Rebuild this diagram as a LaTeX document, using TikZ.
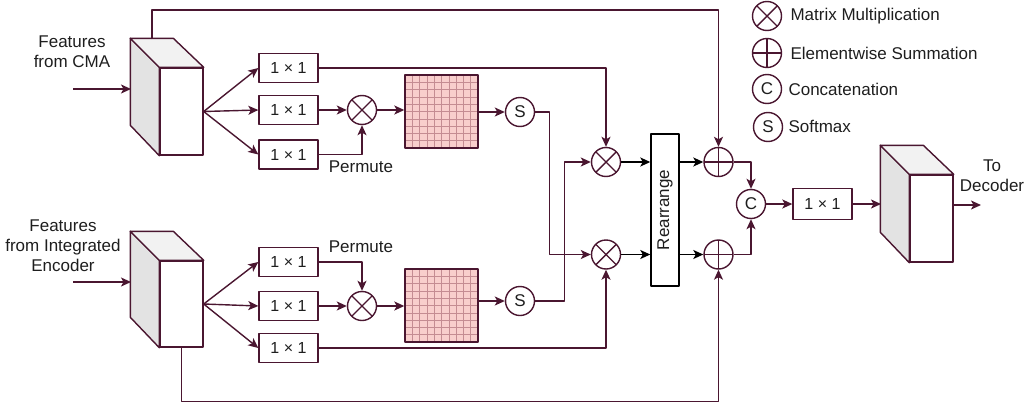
\documentclass[tikz,border=0pt]{standalone}
\usepackage{fontspec}
\setmainfont{Liberation Sans}
\usetikzlibrary{arrows.meta}
\definecolor{mar}{RGB}{74,22,48}
\definecolor{txt}{RGB}{30,30,30}
\definecolor{pinkf}{RGB}{248,206,204}
\definecolor{gridl}{RGB}{196,140,146}
\begin{document}
\begin{tikzpicture}[x=1pt,y=-1pt,line join=round,
  every node/.style={font=\fontsize{17}{20}\selectfont, text=txt},
  ln/.style={draw=mar, line width=1.4pt},
  arr/.style={ln, -{Stealth[length=10pt,width=9pt,inset=2.5pt]}},
  arrk/.style={draw=black, line width=1.4pt, -{Stealth[length=10pt,width=9pt,inset=2.5pt]}},
  conv/.style={draw=mar, line width=1.4pt, fill=white, minimum width=59pt, minimum height=29pt, inner sep=0pt, font=\fontsize{16}{19}\selectfont},
  circ/.style={circle, draw=mar, line width=1.4pt, fill=white, minimum size=29pt, inner sep=0pt},
  mult/.style={circ, path picture={\draw[mar, line width=1.4pt] (path picture bounding box.north west)--(path picture bounding box.south east) (path picture bounding box.north east)--(path picture bounding box.south west);}},
  plus/.style={circ, path picture={\draw[mar, line width=1.4pt] (path picture bounding box.north)--(path picture bounding box.south) (path picture bounding box.east)--(path picture bounding box.west);}},
  face/.style={draw=mar, line width=1.4pt, fill=white, minimum width=43pt, minimum height=87pt, inner sep=0pt},
  sideface/.style={draw=mar, line width=1.4pt, fill=black!11},
  topface/.style={draw=mar, line width=1.4pt, fill=black!5},
  gridbox/.style={draw=mar, line width=1.4pt, fill=pinkf, minimum size=73pt, inner sep=0pt,
    path picture={\foreach \k in {1,...,9}{
      \draw[gridl, line width=0.6pt] ([xshift=\k*7.3pt]path picture bounding box.north west) -- ([xshift=\k*7.3pt]path picture bounding box.south west);
      \draw[gridl, line width=0.6pt] ([yshift=-\k*7.3pt]path picture bounding box.north west) -- ([yshift=-\k*7.3pt]path picture bounding box.north east);}}},
  rearr/.style={draw=black, line width=1.4pt, fill=white, minimum width=28pt, minimum height=152pt, inner sep=0pt},
  lab/.style={align=center, inner sep=0pt}
]
\useasboundingbox (0,0) rectangle (1036,407);

% ---------- cuboids ----------
\node[face] (encA) at (181.5,111.5) {};
\path[sideface] (encA.north west) -- ++(-29,-29) -- ++(0,87) -- (encA.south west) -- cycle;
\path[topface] (encA.north west) -- ++(-29,-29) -- ++(43,0) -- (encA.north east) -- cycle;
\node[face, minimum height=86pt] (encB) at (181.5,304) {};
\path[sideface] (encB.north west) -- ++(-29,-29) -- ++(0,86) -- (encB.south west) -- cycle;
\path[topface] (encB.north west) -- ++(-29,-29) -- ++(43,0) -- (encB.north east) -- cycle;
\node[face] (dec) at (931.5,218.5) {};
\path[sideface] (dec.north west) -- ++(-29,-29) -- ++(0,87) -- (dec.south west) -- cycle;
\path[topface] (dec.north west) -- ++(-29,-29) -- ++(43,0) -- (dec.north east) -- cycle;

\coordinate (inA) at (73,89);
\coordinate (encAback) at (131,89);
\coordinate (inB) at (73,282);
\coordinate (encBback) at (131,282);
\coordinate (encAtop) at (152,39);
\coordinate (decback) at (881,204);
\coordinate (outend) at (981,205);

% ---------- labels ----------
\node[lab] (labA) at (72,52) {Features\\from CMA};
\node[lab] (labB) at (63,246) {Features\\from Integrated\\Encoder};
\node[lab] (labD) at (992,176) {To\\Decoder};
\node[lab] (permA) at (361,167) {Permute};
\node[lab] (permB) at (361,247) {Permute};

% ---------- branch nodes ----------
\node[conv] (a1) at (288.5,68) {1 × 1};
\node[conv] (a2) at (288.5,110) {1 × 1};
\node[conv] (a3) at (288.5,154.5) {1 × 1};
\node[conv] (b1) at (288.5,262) {1 × 1};
\node[conv] (b2) at (288.5,306) {1 × 1};
\node[conv] (b3) at (288.5,348) {1 × 1};

\node[mult] (mulA) at (362,110) {};
\node[mult] (mulB) at (362,306) {};
\node[gridbox] (gA) at (441.5,111.5) {};
\node[gridbox] (gB) at (441.5,305.5) {};
\node[circ] (sA) at (520,112) {S};
\node[circ] (sB) at (520,301) {S};

\node[mult] (m1) at (606,162) {};
\node[mult] (m2) at (606,254.5) {};
\node[rearr] (re) at (665,210) {};
\node[rotate=90] (reT) at (665,210) {Rearrange};
\node[plus] (p1) at (718.5,162) {};
\node[plus] (p2) at (718.5,254.5) {};
\node[circ] (cc) at (751,204) {C};
\node[conv, minimum height=31pt] (o1) at (822.5,204) {1 × 1};

% ---------- legend ----------
\node[mult] (L1) at (767,16) {};
\node[anchor=west] (L1t) at (787,16) {Matrix Multiplication};
\node[plus] (L2) at (767,53) {};
\node[anchor=west] (L2t) at (787,53) {Elementwise Summation};
\node[circ] (L3) at (767,89) {C};
\node[anchor=west] (L3t) at (785,89) {Concatenation};
\node[circ] (L4) at (768,127) {S};
\node[anchor=west] (L4t) at (785,126) {Softmax};

% ---------- connectors ----------
\draw[arr] (inA) -- (encAback);
\draw[arr] (inB) -- (encBback);
\foreach \t in {a1,a2,a3} \draw[arr] (encA.east) -- (\t.west);
\foreach \t in {b1,b2,b3} \draw[arr] (encB.east) -- (\t.west);

\draw[arr] (encAtop) -- ++(0,-29) -| (p1.north);
\draw[arr] (encB.south) -- ++(0,54) -| (p2.south);

\draw[arr] (a1.east) -| (m1.north);
\draw[arr] (a2.east) -- (mulA.west);
\draw[arr] (a3.east) -| (mulA.south);
\draw[arr] (mulA.east) -- (gA.west |- mulA);
\draw[arr] (gA.east |- sA) -- (sA.west);
\draw[arr] (sA.east) -- ++(14,0) |- (m2.west);

\draw[arr] (b1.east) -| (mulB.north);
\draw[arr] (b2.east) -- (mulB.west);
\draw[arr] (b3.east) -| (m2.south);
\draw[arr] (mulB.east) -- (gB.west |- mulB);
\draw[arr] (gB.east |- sB) -- (sB.west);
\draw[arr] (sB.east) -- ++(29,0) |- (m1.west);

\draw[arrk] (m1.east) -- (re.west |- m1);
\draw[arrk] (m2.east) -- (re.west |- m2);
\draw[arrk] (re.east |- p1) -- (p1.west);
\draw[arrk] (re.east |- p2) -- (p2.west);
\draw[arr] (p1.east) -| (cc.north);
\draw[arr] (p2.east) -| (cc.south);
\draw[arr] (cc.east) -- (o1.west);
\draw[arr] (o1.east) -- (decback);
\draw[arr] (dec.east |- outend) -- (outend);
\end{tikzpicture}
\end{document}
